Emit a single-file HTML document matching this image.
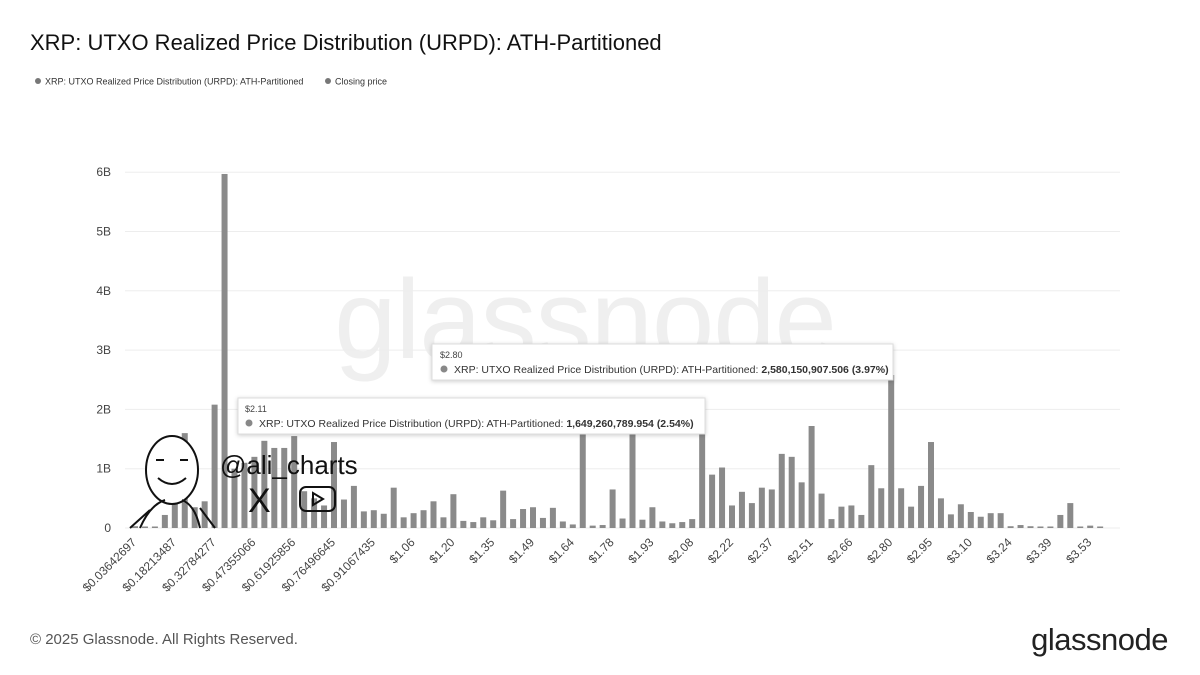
<!DOCTYPE html>
<html><head><meta charset="utf-8"><style>
body{margin:0;background:#fff;}
svg{display:block;font-family:"Liberation Sans",Arial,sans-serif;}
</style></head><body>
<svg id="s" width="1200" height="675" viewBox="0 0 1200 675" xmlns="http://www.w3.org/2000/svg">
<rect width="1200" height="675" fill="#fff"/>
<text x="30" y="50" font-size="22" fill="#111">XRP: UTXO Realized Price Distribution (URPD): ATH-Partitioned</text>
<circle cx="38" cy="81" r="3" fill="#777"/>
<text x="45" y="84.5" font-size="9" fill="#333">XRP: UTXO Realized Price Distribution (URPD): ATH-Partitioned</text>
<circle cx="328" cy="81" r="3" fill="#777"/>
<text x="335" y="84.5" font-size="9" fill="#333">Closing price</text>
<text x="585" y="358" font-size="112" fill="#efefef" text-anchor="middle" letter-spacing="-1">glassnode</text>
<g id="grid"></g>
<g id="bars"></g>
<g id="xl"></g>
<g fill="none" stroke="#111" stroke-width="2">
<ellipse cx="172" cy="470" rx="26" ry="34" fill="#fff"/>
<path d="M140 528 Q150 505 165 500 M200 528 Q195 505 182 500 M130 528 L150 510 M215 528 L200 508"/>
<path d="M158 478 Q172 490 186 478"/>
<path d="M156 460 l8 0 M180 460 l8 0"/>
</g>
<text x="220" y="474" font-size="26" fill="#111">@ali_charts</text>
<text x="248" y="512" font-size="34" fill="#111">X</text>
<rect x="300" y="487" width="35" height="24" rx="6" fill="none" stroke="#111" stroke-width="2"/>
<path d="M313 493 L313 505 L323 499 Z" fill="none" stroke="#111" stroke-width="2"/>
<g>
<rect x="238" y="398" width="467" height="36" fill="#fff" stroke="#ddd" style="filter:drop-shadow(0 1px 2px rgba(0,0,0,.2))"/>
<text x="245" y="412" font-size="9" fill="#444">$2.11</text>
<circle cx="249" cy="423" r="3.5" fill="#888"/>
<text x="259" y="427" font-size="10.5" fill="#333">XRP: UTXO Realized Price Distribution (URPD): ATH-Partitioned: <tspan font-weight="bold">1,649,260,789.954 (2.54%)</tspan></text>
<rect x="432" y="344" width="461" height="36" fill="#fff" stroke="#ddd" style="filter:drop-shadow(0 1px 2px rgba(0,0,0,.2))"/>
<text x="440" y="358" font-size="9" fill="#444">$2.80</text>
<circle cx="444" cy="369" r="3.5" fill="#888"/>
<text x="454" y="373" font-size="10.5" fill="#333">XRP: UTXO Realized Price Distribution (URPD): ATH-Partitioned: <tspan font-weight="bold">2,580,150,907.506 (3.97%)</tspan></text>
</g>
<text x="30" y="644" font-size="15" fill="#555">© 2025 Glassnode. All Rights Reserved.</text>
<text x="1168" y="650" font-size="31" fill="#222" text-anchor="end" letter-spacing="-0.5">glassnode</text>
</svg>
<script>
var NS="http://www.w3.org/2000/svg";
function el(p,t,a,txt){var e=document.createElementNS(NS,t);for(var k in a)e.setAttribute(k,a[k]);if(txt!=null)e.textContent=txt;document.getElementById(p).appendChild(e);return e;}
var y0=528,pb=59.3;
for(var i=0;i<=6;i++){var y=y0-i*pb;el("grid","line",{x1:125,x2:1120,y1:y,y2:y,stroke:"#ededed","stroke-width":1});
el("grid","text",{x:111,y:y+4,"font-size":12,fill:"#444","text-anchor":"end"},i==0?"0":i+"B");}
var v=[0.03,0.02,0.02,0.22,0.5,1.6,0.35,0.45,2.08,5.97,1.0,1.1,1.2,1.47,1.35,1.35,1.55,0.62,0.5,0.38,1.45,0.48,0.71,0.28,0.3,0.24,0.68,0.18,0.25,0.3,0.45,0.18,0.57,0.12,0.1,0.18,0.13,0.63,0.15,0.32,0.35,0.17,0.34,0.11,0.06,1.65,0.04,0.05,0.65,0.16,1.65,0.14,0.35,0.11,0.08,0.1,0.15,1.65,0.9,1.02,0.38,0.61,0.42,0.68,0.65,1.25,1.2,0.77,1.72,0.58,0.15,0.36,0.38,0.22,1.06,0.67,2.58,0.67,0.36,0.71,1.45,0.5,0.23,0.4,0.27,0.19,0.25,0.25,0.03,0.05,0.03,0.02,0.02,0.22,0.42,0.01,0.04,0.02];
var L={0:"$0.03642697",4:"$0.18213487",8:"$0.32784277",12:"$0.47355066",16:"$0.61925856",20:"$0.76496645",24:"$0.91067435",28:"$1.06",32:"$1.20",36:"$1.35",40:"$1.49",44:"$1.64",48:"$1.78",52:"$1.93",56:"$2.08",60:"$2.22",64:"$2.37",68:"$2.51",72:"$2.66",76:"$2.80",80:"$2.95",84:"$3.10",88:"$3.24",92:"$3.39",96:"$3.53"};
for(var i=0;i<v.length;i++){var x=135+i*9.95,h=Math.max(v[i]*pb,1.5);
el("bars","rect",{x:x-3,y:y0-h,width:6,height:h,fill:"#8a8a8a"});
if(L[i]){el("xl","text",{x:x+2,y:y0+15,"font-size":12,fill:"#444","text-anchor":"end",transform:"rotate(-45 "+(x+2)+" "+(y0+15)+")"},L[i]);}}
</script>
</body></html>
